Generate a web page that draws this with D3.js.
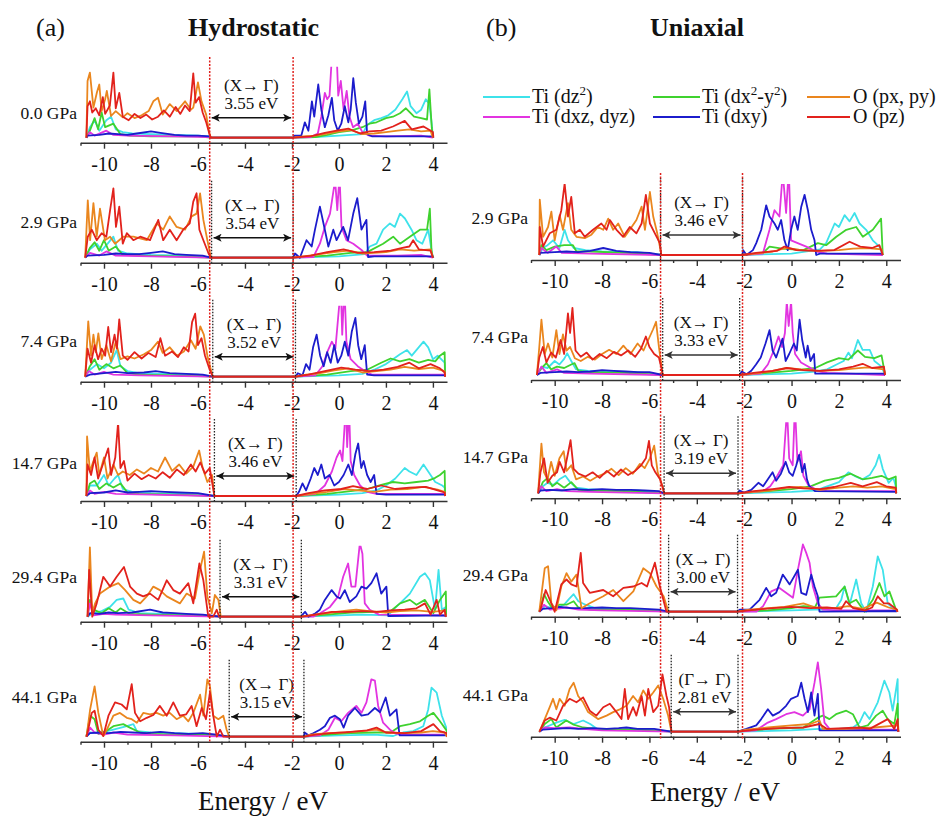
<!DOCTYPE html>
<html>
<head>
<meta charset="utf-8">
<script src="https://cdn.jsdelivr.net/npm/d3@7"></script>
<style>
  body { margin: 0; background: #fff; }
  text { font-family: "Liberation Serif", "Times New Roman", serif; fill: #111; }
</style>
</head>
<body>
<div id="chart"></div>
<script>
// ---- tick labels ----
const majorTicks = [-10, -8, -6, -4, -2, 0, 2, 4];
const minorTicks = [-11, -9, -7, -5, -3, -1, 1, 3];

// ---- legend ----
const seriesNames = ["Ti (dz2)", "Ti (dx2-y2)", "Ti (dxz, dyz)", "Ti (dxy)", "O (px, py)", "O (pz)"];
const seriesColors = ["#3ee2ea", "#3fd22e", "#e234e0", "#1c1ccc", "#ea861e", "#e2221c"];

// ---- panel info, (a) hydrostatic ----
const hydroLabels = ["0.0 GPa", "2.9 GPa", "7.4 GPa", "14.7 GPa", "29.4 GPa", "44.1 GPa"];
const hydroGaps = ["3.55 eV", "3.54 eV", "3.52 eV", "3.46 eV", "3.31 eV", "3.15 eV"];
const hydroTrans = ["(X\u2192 \u0393)", "(X\u2192 \u0393)", "(X\u2192 \u0393)", "(X\u2192 \u0393)", "(X\u2192 \u0393)", "(X\u2192 \u0393)"];
const hydroVBM = [-5.5, -5.42, -5.37, -5.3, -5.06, -4.67];
const hydroCBM = [-1.95, -1.95, -1.85, -1.82, -1.6, -1.49];

// ---- panel info, (b) uniaxial ----
const uniLabels = ["2.9 GPa", "7.4 GPa", "14.7 GPa", "29.4 GPa", "44.1 GPa"];
const uniGaps = ["3.46 eV", "3.33 eV", "3.19 eV", "3.00 eV", "2.81 eV"];
const uniTrans = ["(X\u2192 \u0393)", "(X\u2192 \u0393)", "(X\u2192 \u0393)", "(X\u2192 \u0393)", "(\u0393\u2192 \u0393)"];
const uniVBM = [-5.53, -5.44, -5.38, -5.19, -5.08];
const uniCBM = [-2.07, -2.19, -2.26, -2.28, -2.26];

// ---- DOS curves [energy eV, DOS] ----
// hydrostatic 0.0 GPa
const h0_dz2 = [[-10.75,0],[-10.6,1.5],[-10.4,2.5],[-10.2,1.0],[-9.9,2.5],[-9.7,3.0],[-9.5,1.2],[-9.2,0.8],[-8.8,0.6],[-8,0.5],[-7,0.4],[-6,0.3],[-5.5,0.2],[-5.45,0],[-1.95,0],[-1,0.1],[0,0.3],[1,0.5],[1.2,1.8],[1.5,2.5],[1.8,2.8],[2.1,3.2],[2.4,4.0],[2.7,5.5],[2.9,6.6],[3.05,4.5],[3.3,3.5],[3.5,4.0],[3.7,5.5],[3.85,4.8],[3.95,2.0],[4.0,0]];
const h0_dx2y2 = [[-10.75,0],[-10.6,1.0],[-10.4,2.8],[-10.25,1.2],[-10.1,3.6],[-9.95,1.5],[-9.6,2.0],[-9.3,0.5],[-8.9,0.3],[-8,0.2],[-6,0.2],[-5.45,0],[-1.95,0],[-1,0.1],[-0.5,0.4],[0,0.8],[0.5,1.0],[1,1.5],[1.3,2.0],[1.6,2.2],[2,2.8],[2.3,3.0],[2.6,3.5],[2.85,4.2],[3.2,3.0],[3.5,2.8],[3.75,2.6],[3.85,6.9],[3.95,1.5],[4.0,0]];
const h0_dxz = [[-10.75,0],[-10.6,0.8],[-10.4,0.3],[-9.9,1.0],[-9.6,0.4],[-9,0.3],[-7,0.2],[-5.5,0.1],[-5.45,0],[-1.95,0],[-1.2,0.1],[-0.9,0.6],[-0.75,3.0],[-0.6,6.4],[-0.5,5.5],[-0.4,6.0],[-0.32,10.5],[-0.08,10.5],[-0.03,6.0],[0.08,8.1],[0.2,4.0],[0.33,6.7],[0.45,3.0],[0.6,1.5],[0.8,2.0],[1.0,0.8],[1.3,0.3],[2,0.2],[3.5,0.3],[4.0,0]];
const h0_dxy = [[-10.75,0],[-10.7,0.3],[-10.2,0.4],[-9.8,0.6],[-9.4,0.5],[-9,0.4],[-8.6,0.6],[-8,0.9],[-7.6,0.7],[-7,0.4],[-6.5,0.3],[-6,0.3],[-5.5,0.2],[-5.45,0],[-1.95,0],[-1.9,0.3],[-1.6,0.3],[-1.45,2.2],[-1.3,1.0],[-1.15,5.2],[-1.05,3.0],[-0.88,7.6],[-0.75,4.0],[-0.6,1.5],[-0.45,3.2],[-0.3,5.7],[-0.2,2.5],[-0.05,1.0],[0.1,2.0],[0.25,4.5],[0.4,2.2],[0.5,4.0],[0.61,8.5],[0.72,5.0],[0.85,2.0],[1.0,3.0],[1.12,5.2],[1.2,0.5],[1.4,0.2],[4.0,0.2],[4.02,0]];
const h0_pxy = [[-10.75,0],[-10.7,8.1],[-10.6,9.3],[-10.45,4.3],[-10.3,6.5],[-10.2,7.6],[-10.1,3.8],[-9.95,5.5],[-9.88,6.7],[-9.7,3.1],[-9.5,3.8],[-9.2,2.9],[-9,3.5],[-8.7,2.8],[-8.4,3.2],[-8.1,3.8],[-7.9,5.2],[-7.7,5.7],[-7.5,3.3],[-7.2,4.8],[-6.9,3.8],[-6.55,5.2],[-6.3,4.0],[-6.2,4.3],[-6,7.9],[-5.85,5.2],[-5.65,3.3],[-5.52,0.7],[-5.45,0],[-1.95,0],[-1.5,0.2],[-1,0.3],[-0.5,0.6],[0,0.9],[0.5,1.1],[1,0.5],[1.5,0.6],[2,0.8],[2.5,1.0],[3,1.2],[3.5,0.9],[3.9,1.0],[4.0,0]];
const h0_pz = [[-10.75,0],[-10.7,4.5],[-10.6,5.2],[-10.5,3.6],[-10.35,4.2],[-10.2,3.2],[-10.05,5.8],[-9.95,3.4],[-9.75,4.6],[-9.6,9.3],[-9.5,4.2],[-9.35,6.4],[-9.2,3.0],[-8.95,2.5],[-8.7,3.4],[-8.45,2.8],[-8.2,3.3],[-7.95,2.6],[-7.7,3.0],[-7.45,3.9],[-7.2,3.0],[-6.95,4.4],[-6.75,3.4],[-6.55,4.6],[-6.35,3.8],[-6.2,9.2],[-6.1,5.0],[-5.95,5.8],[-5.8,3.6],[-5.65,2.2],[-5.5,0.4],[-5.45,0],[-1.95,0],[-1.2,0.2],[-0.6,0.7],[-0.1,1.0],[0.4,1.3],[0.9,0.6],[1.3,0.9],[1.8,1.0],[2.3,1.6],[2.8,2.4],[3.1,1.2],[3.6,1.6],[4.0,0.8],[4.02,0]];

// hydrostatic 2.9 GPa
const h1_dz2 = [[-10.8,0],[-10.6,1.2],[-10.3,2.0],[-10.1,1.0],[-9.8,2.2],[-9.6,3.0],[-9.4,1.0],[-9.0,0.6],[-8,0.4],[-6.5,0.3],[-5.45,0],[-1.95,0],[0,0.2],[1.1,0.5],[1.31,1.6],[1.6,2.0],[1.88,4.0],[2.17,4.9],[2.38,4.4],[2.6,6.3],[2.81,5.6],[3.09,4.0],[3.3,2.5],[3.55,2.0],[3.8,4.0],[3.94,1.1],[4.0,0]];
const h1_dx2y2 = [[-10.8,0],[-10.6,1.4],[-10.4,2.2],[-10.2,1.0],[-10.0,2.5],[-9.8,1.0],[-9.5,1.6],[-9.2,0.4],[-8.5,0.3],[-7,0.2],[-5.45,0],[-1.95,0],[-0.5,0.3],[0.5,0.7],[1.2,0.8],[1.88,2.0],[2.31,3.0],[2.6,2.0],[3.02,3.0],[3.45,4.0],[3.75,4.0],[3.87,7.0],[3.94,1.0],[4.0,0]];
const h1_dxz = [[-10.8,0],[-10.6,0.7],[-10.2,0.3],[-9.9,0.9],[-9.5,0.3],[-8,0.2],[-5.45,0],[-1.95,0],[-1.09,0.1],[-0.81,2.0],[-0.6,4.4],[-0.38,6.3],[-0.19,10.5],[-0.15,10.5],[-0.07,6.8],[0,10.5],[0.04,10.5],[0.11,4.4],[0.32,2.5],[0.61,2.0],[0.96,1.1],[1.2,0.3],[2.5,0.3],[3.5,0.4],[4.0,0]];
const h1_dxy = [[-10.8,0],[-10.7,0.3],[-10.0,0.4],[-9.5,0.6],[-9,0.5],[-8.5,0.5],[-8,0.7],[-7.5,0.9],[-7,0.5],[-6.5,0.4],[-5.8,0.3],[-5.45,0],[-1.95,0],[-1.87,0.6],[-1.66,0],[-1.38,2.5],[-1.16,1.6],[-1.02,4.0],[-0.81,7.3],[-0.6,4.0],[-0.45,1.6],[-0.24,4.0],[-0.1,2.5],[0.18,4.4],[0.39,2.5],[0.61,6.3],[0.78,8.5],[0.96,4.0],[1.17,5.4],[1.24,0.1],[1.5,0.2],[4.0,0.2],[4.02,0]];
const h1_pxy = [[-10.8,0],[-10.69,8.2],[-10.59,2.5],[-10.45,7.8],[-10.31,3.0],[-10.17,7.0],[-9.96,2.5],[-9.74,3.0],[-9.53,2.0],[-9.18,3.0],[-8.75,3.0],[-8.18,2.5],[-7.76,4.9],[-7.48,4.0],[-7.2,5.9],[-6.91,4.4],[-6.55,4.0],[-6.27,5.9],[-6.06,6.3],[-5.91,9.2],[-5.77,5.4],[-5.6,2.5],[-5.45,0],[-1.95,0],[-1.5,0.2],[-0.8,0.5],[-0.2,0.8],[0.4,1.0],[1,0.6],[2,0.8],[2.6,1.2],[3.2,1.0],[3.9,1.2],[4.0,0]];
const h1_pz = [[-10.8,0],[-10.69,3.0],[-10.52,4.0],[-10.31,2.5],[-10.1,3.5],[-9.9,3.0],[-9.74,6.8],[-9.6,9.9],[-9.49,4.4],[-9.35,7.3],[-9.2,2.0],[-9.03,3.5],[-8.75,2.5],[-8.46,3.0],[-8.04,2.5],[-7.69,5.4],[-7.48,2.5],[-7.2,4.0],[-6.91,2.5],[-6.63,4.0],[-6.35,4.9],[-6.2,8.0],[-6.06,9.2],[-5.94,4.0],[-5.77,2.5],[-5.55,0.6],[-5.45,0],[-1.95,0],[-1.2,0.3],[-0.5,0.8],[0.2,1.2],[0.8,0.7],[1.5,0.8],[2.2,1.0],[2.7,1.4],[3.0,1.6],[3.16,2.5],[3.4,1.2],[3.9,1.0],[4.0,0]];

// hydrostatic 7.4 GPa
const h2_dz2 = [[-10.8,0],[-10.6,1.0],[-10.3,1.8],[-10.0,1.2],[-9.7,2.0],[-9.46,3.8],[-9.3,1.5],[-9.0,0.8],[-8.5,0.5],[-7.5,0.4],[-6,0.3],[-5.37,0],[-1.85,0],[0,0.2],[1,0.4],[1.5,1.0],[2.0,1.8],[2.3,2.5],[2.6,3.2],[2.9,3.8],[3.1,3.0],[3.35,4.0],[3.6,5.0],[3.8,4.2],[4.0,2.5],[4.2,3.0],[4.5,2.0],[4.52,0]];
const h2_dx2y2 = [[-10.8,0],[-10.6,1.5],[-10.4,2.5],[-10.2,1.0],[-9.9,1.8],[-9.6,1.2],[-9.3,1.6],[-9.0,0.5],[-8.5,0.3],[-7,0.2],[-5.37,0],[-1.85,0],[-0.5,0.3],[0.5,0.8],[1.2,1.0],[1.8,2.0],[2.2,2.6],[2.6,2.2],[3.0,2.5],[3.4,2.0],[3.8,2.4],[4.1,2.2],[4.3,3.0],[4.5,3.5],[4.52,0]];
const h2_dxz = [[-10.8,0],[-10.65,0.8],[-10.4,0.3],[-10.0,0.7],[-9.6,0.3],[-8.5,0.2],[-5.37,0],[-1.85,0],[-1.0,0.2],[-0.7,1.5],[-0.5,3.5],[-0.3,5.0],[-0.15,4.0],[0.02,10.5],[0.1,10.5],[0.14,6.0],[0.2,10.5],[0.26,10.5],[0.32,5.0],[0.5,2.5],[0.8,1.5],[1.1,0.8],[1.4,0.3],[3,0.3],[4.5,0.3],[4.52,0]];
const h2_dxy = [[-10.8,0],[-10.6,0.3],[-10.0,0.5],[-9.5,0.7],[-9,0.5],[-8.3,0.6],[-7.8,0.8],[-7.2,0.5],[-6.5,0.4],[-5.8,0.3],[-5.37,0],[-1.85,0],[-1.75,0.5],[-1.55,0.2],[-1.4,1.8],[-1.25,1.0],[-1.1,4.2],[-0.95,6.0],[-0.8,3.0],[-0.65,1.5],[-0.5,3.5],[-0.35,2.0],[-0.2,4.5],[-0.05,2.0],[0.1,3.0],[0.25,5.0],[0.4,3.0],[0.55,6.5],[0.7,8.4],[0.82,4.5],[0.95,2.5],[1.1,4.5],[1.2,0.3],[1.5,0.2],[4.5,0.2],[4.52,0]];
const h2_pxy = [[-10.8,0],[-10.67,7.9],[-10.55,3.0],[-10.45,6.0],[-10.35,3.5],[-10.24,6.2],[-10.1,2.5],[-9.9,4.5],[-9.7,2.2],[-9.5,5.0],[-9.3,2.5],[-9.0,2.9],[-8.7,2.6],[-8.3,3.2],[-8.0,3.8],[-7.7,5.0],[-7.5,3.4],[-7.2,4.2],[-6.9,3.0],[-6.6,3.6],[-6.3,5.2],[-6.1,4.0],[-5.9,7.2],[-5.75,6.0],[-5.6,3.0],[-5.45,1.0],[-5.37,0],[-1.85,0],[-1.4,0.3],[-0.8,0.5],[-0.2,0.9],[0.4,1.2],[1,0.6],[1.6,0.8],[2.2,1.0],[2.8,1.4],[3.4,1.1],[4.0,1.3],[4.5,0.8],[4.52,0]];
const h2_pz = [[-10.8,0],[-10.7,4.0],[-10.55,2.0],[-10.4,4.5],[-10.25,2.5],[-10.1,4.0],[-9.95,3.0],[-9.82,7.1],[-9.7,3.5],[-9.55,6.0],[-9.45,4.0],[-9.35,8.2],[-9.2,3.0],[-9.0,2.4],[-8.7,3.5],[-8.4,2.6],[-8.1,3.4],[-7.8,2.8],[-7.6,5.5],[-7.4,3.0],[-7.1,3.6],[-6.85,2.8],[-6.6,4.2],[-6.4,3.6],[-6.25,7.8],[-6.12,9.0],[-6.0,4.5],[-5.85,5.5],[-5.7,3.0],[-5.5,1.0],[-5.37,0],[-1.85,0],[-1.3,0.3],[-0.6,0.8],[0.1,1.3],[0.7,1.0],[1.3,0.8],[1.9,1.0],[2.5,1.4],[3.0,2.0],[3.4,1.2],[3.9,1.8],[4.3,1.2],[4.5,0.6],[4.52,0]];

// hydrostatic 14.7 GPa
const h3_dz2 = [[-10.75,0],[-10.6,1.5],[-10.3,1.5],[-10.0,3.0],[-9.8,1.5],[-9.55,2.5],[-9.4,3.0],[-9.2,1.0],[-8.8,0.6],[-8,0.4],[-6.5,0.3],[-5.3,0],[-1.82,0],[0,0.2],[1,0.4],[1.6,0.8],[2.0,1.5],[2.4,2.5],[2.8,4.0],[3.0,3.5],[3.3,3.0],[3.6,4.5],[3.8,3.5],[4.1,2.0],[4.4,1.5],[4.5,1.2],[4.52,0]];
const h3_dx2y2 = [[-10.75,0],[-10.6,1.8],[-10.4,2.2],[-10.2,1.0],[-9.9,1.8],[-9.6,1.2],[-9.3,1.8],[-9.0,0.5],[-8.5,0.3],[-7,0.2],[-5.3,0],[-1.82,0],[-0.5,0.3],[0.5,0.7],[1.2,1.0],[1.8,1.6],[2.3,2.0],[2.8,1.8],[3.3,2.0],[3.8,2.2],[4.1,2.6],[4.3,3.0],[4.5,3.6],[4.52,0]];
const h3_dxz = [[-10.75,0],[-10.6,0.8],[-10.4,0.3],[-10,0.6],[-9.5,0.3],[-8,0.2],[-5.3,0],[-1.82,0],[-1.0,0.3],[-0.6,1.5],[-0.3,3.5],[-0.1,5.5],[0.05,6.5],[0.15,5.0],[0.25,10.5],[0.32,10.5],[0.35,7.0],[0.4,10.5],[0.45,10.5],[0.5,5.0],[0.65,3.0],[0.9,1.5],[1.2,0.6],[1.6,0.3],[4.5,0.3],[4.52,0]];
const h3_dxy = [[-10.75,0],[-10.6,0.4],[-10.0,0.5],[-9.5,0.8],[-9,0.5],[-8.5,0.6],[-8,0.7],[-7.4,0.6],[-6.8,0.5],[-6,0.4],[-5.3,0],[-1.82,0],[-1.7,0.6],[-1.55,1.8],[-1.4,0.8],[-1.2,2.5],[-1.05,4.0],[-0.9,3.0],[-0.75,4.5],[-0.6,2.5],[-0.4,3.0],[-0.2,1.5],[0.0,2.0],[0.2,3.0],[0.4,4.5],[0.55,3.0],[0.7,6.0],[0.82,7.5],[0.95,4.0],[1.05,5.0],[1.2,3.0],[1.35,2.0],[1.5,3.0],[1.6,0.3],[2,0.2],[4.5,0.2],[4.52,0]];
const h3_pxy = [[-10.75,0],[-10.72,8.5],[-10.6,3.5],[-10.45,5.0],[-10.31,6.2],[-10.2,3.0],[-10.0,5.5],[-9.85,2.5],[-9.6,4.5],[-9.4,3.0],[-9.2,3.5],[-8.9,3.0],[-8.6,3.8],[-8.3,3.2],[-8.0,4.0],[-7.7,3.5],[-7.4,5.5],[-7.1,3.6],[-6.8,4.5],[-6.5,3.2],[-6.2,4.2],[-5.95,6.5],[-5.8,4.0],[-5.6,2.0],[-5.4,3.0],[-5.3,0],[-1.82,0],[-1.2,0.3],[-0.5,0.6],[0.2,1.0],[0.8,0.8],[1.5,0.6],[2.2,0.9],[2.9,1.0],[3.6,1.3],[4.2,0.9],[4.5,0.6],[4.52,0]];
const h3_pz = [[-10.75,0],[-10.7,4.5],[-10.55,3.0],[-10.4,5.5],[-10.25,2.5],[-10.05,4.5],[-9.82,6.8],[-9.7,3.0],[-9.52,5.5],[-9.4,10.5],[-9.3,4.0],[-9.15,5.0],[-9.0,2.2],[-8.7,3.2],[-8.4,2.4],[-8.1,3.0],[-7.8,2.5],[-7.5,3.4],[-7.2,2.6],[-6.9,3.8],[-6.6,3.0],[-6.3,4.5],[-6.1,3.5],[-5.9,4.8],[-5.7,3.2],[-5.5,4.0],[-5.35,1.0],[-5.3,0],[-1.82,0],[-1.3,0.4],[-0.6,0.8],[0.1,1.0],[0.6,1.4],[1.2,1.0],[1.8,1.5],[2.4,1.0],[3.0,1.2],[3.7,1.3],[4.2,0.8],[4.5,0.5],[4.52,0]];

// hydrostatic 29.4 GPa
const h4_dz2 = [[-10.7,0],[-10.5,0.5],[-10.1,0.8],[-9.74,1.4],[-9.46,2.4],[-9.18,2.6],[-8.95,1.0],[-8.5,0.5],[-7.5,0.4],[-6.5,0.3],[-5.03,0],[-1.6,0],[0,0.2],[1,0.3],[2.1,0.2],[2.31,1.0],[2.6,1.9],[3.02,3.3],[3.45,5.7],[3.66,6.2],[3.87,5.2],[4.09,1.0],[4.24,6.7],[4.38,1.0],[4.55,1.4],[4.57,0]];
const h4_dx2y2 = [[-10.7,0],[-10.6,2.4],[-10.45,1.0],[-10.1,0.5],[-9.8,1.2],[-9.5,0.6],[-9.3,1.2],[-8.9,0.4],[-8,0.3],[-6.5,0.2],[-5.03,0],[-1.6,0],[-0.5,0.3],[0.5,0.6],[1.5,0.7],[2.17,0.7],[2.6,1.9],[3.02,2.4],[3.3,1.7],[3.66,2.4],[4.02,0.5],[4.3,2.4],[4.55,3.6],[4.57,0]];
const h4_dxz = [[-10.7,0],[-10.6,1.9],[-10.45,0.2],[-10,0.4],[-9.5,0.3],[-8,0.2],[-5.03,0],[-1.6,0],[-1.09,0],[-0.8,0.5],[-0.38,1.4],[-0.03,2.9],[0.18,5.7],[0.39,7.6],[0.53,4.3],[0.7,4.3],[0.89,10.5],[1.0,9.0],[1.1,1.9],[1.31,1.0],[1.7,0.3],[4.55,0.2],[4.57,0]];
const h4_dxy = [[-10.7,0],[-10.6,0.5],[-10.2,0.4],[-9.8,0.6],[-9.4,0.5],[-8.8,0.6],[-8.04,1.0],[-7.5,0.6],[-7,0.5],[-6.5,0.4],[-5.8,0.3],[-5.03,0],[-1.6,0],[-1.58,0.2],[-1.44,0.7],[-1.3,0],[-1.0,0.5],[-0.81,1.0],[-0.6,2.4],[-0.31,3.8],[-0.1,2.9],[0.05,2.6],[0.25,3.8],[0.46,2.1],[0.74,2.9],[0.96,4.3],[1.17,4.0],[1.38,4.8],[1.6,6.2],[1.8,3.3],[2.02,4.3],[2.1,0.1],[4.5,0.2],[4.55,0]];
const h4_pxy = [[-10.7,0],[-10.6,9.9],[-10.5,0.5],[-10.38,1.9],[-10.17,3.3],[-9.74,4.3],[-9.39,4.8],[-9.1,3.8],[-8.75,2.4],[-8.46,1.9],[-8.18,2.9],[-7.9,4.3],[-7.62,3.8],[-7.33,2.9],[-7.05,2.4],[-6.77,1.9],[-6.48,3.3],[-6.13,2.6],[-5.91,6.7],[-5.74,9.3],[-5.6,2.9],[-5.41,0.5],[-5.28,3.1],[-5.13,2.4],[-5.03,0],[-1.6,0],[-1.0,0.3],[-0.3,0.6],[0.4,0.9],[0.74,1.0],[1.3,0.8],[2.0,0.6],[2.6,0.8],[3.3,0.9],[4.0,0.7],[4.5,0.9],[4.55,0]];
const h4_pz = [[-10.7,0],[-10.63,6.7],[-10.5,0],[-10.31,1.9],[-10.03,5.7],[-9.74,4.3],[-9.46,5.7],[-9.15,7.1],[-8.89,4.3],[-8.6,3.3],[-8.33,2.9],[-8.04,3.3],[-7.69,2.4],[-7.33,5.2],[-7.05,3.8],[-6.77,3.3],[-6.41,4.8],[-6.2,1.9],[-5.94,7.6],[-5.77,5.2],[-5.56,0],[-5.35,0],[-5.2,1.0],[-5.1,0],[-1.6,0],[-1.0,0.3],[-0.3,0.7],[0.4,0.7],[1.0,0.8],[1.6,0.7],[2.2,0.9],[2.8,1.0],[3.3,1.2],[3.66,1.9],[3.9,0.3],[4.16,2.4],[4.3,0.3],[4.5,1.0],[4.55,0]];

// hydrostatic 44.1 GPa
const h5_dz2 = [[-10.75,0],[-10.6,0.6],[-10.2,0.5],[-9.6,1.0],[-9.03,1.5],[-8.75,1.8],[-8.6,0.8],[-8.0,0.6],[-7,0.5],[-6,0.4],[-4.67,0],[-1.49,0],[0,0.2],[1.5,0.3],[2.31,0.1],[2.73,0.6],[3.16,0.8],[3.59,1.5],[3.8,3.9],[3.94,7.0],[4.16,6.3],[4.38,3.0],[4.6,1.0],[4.62,0]];
const h5_dx2y2 = [[-10.75,0],[-10.59,3.0],[-10.4,2.5],[-10.24,0.4],[-9.9,0.8],[-9.6,1.5],[-9.18,1.8],[-8.9,1.3],[-8.46,0.6],[-8,0.4],[-7,0.3],[-5.5,0.3],[-4.67,0],[-1.49,0],[-0.5,0.3],[0.5,0.5],[1.5,0.6],[2.2,0.6],[2.6,1.5],[3.02,1.8],[3.45,2.2],[3.8,3.0],[4.02,3.4],[4.3,2.2],[4.6,0.8],[4.62,0]];
const h5_dxz = [[-10.75,0],[-10.59,1.3],[-10.4,0.6],[-10,0.3],[-9.6,0.6],[-9,0.3],[-7,0.2],[-4.67,0],[-1.49,0],[-0.8,0.2],[-0.45,1.0],[-0.17,2.7],[0.1,2.2],[0.39,3.4],[0.74,4.4],[0.96,3.4],[1.17,4.9],[1.38,8.2],[1.53,8.0],[1.67,4.4],[1.88,2.0],[2.17,1.0],[2.45,0.4],[3,0.3],[4.6,0.3],[4.62,0]];
const h5_dxy = [[-10.75,0],[-10.6,0.5],[-10.2,0.6],[-9.8,0.5],[-9.3,0.7],[-8.8,0.6],[-8.2,0.5],[-7.6,0.7],[-7,0.5],[-6.4,0.4],[-5.8,0.5],[-5.2,0.3],[-4.67,0],[-1.49,0],[-1.46,0.6],[-1.3,0.2],[-1.1,0.5],[-0.81,1.0],[-0.6,1.5],[-0.38,2.7],[-0.17,3.0],[0.04,2.5],[0.2,1.3],[0.39,3.0],[0.68,4.1],[0.96,3.0],[1.24,3.2],[1.53,4.1],[1.75,3.5],[1.99,5.6],[2.17,3.0],[2.45,3.9],[2.58,0.2],[3.5,0.2],[4.6,0.2],[4.62,0]];
const h5_pxy = [[-10.75,0],[-10.72,0.6],[-10.59,3.9],[-10.4,7.2],[-10.24,3.4],[-10.03,0.1],[-9.88,1.0],[-9.6,3.0],[-9.32,3.4],[-9.03,2.7],[-8.82,2.5],[-8.6,2.0],[-8.33,3.4],[-8.04,3.2],[-7.76,3.4],[-7.48,3.0],[-7.2,3.4],[-6.91,2.5],[-6.63,3.0],[-6.41,2.2],[-6.2,3.4],[-5.91,6.0],[-5.77,3.0],[-5.6,8.2],[-5.49,7.2],[-5.35,3.0],[-5.13,2.5],[-4.92,3.0],[-4.78,1.0],[-4.67,0],[-1.49,0],[-1.2,0.3],[-0.5,0.5],[0.3,0.6],[1.0,0.8],[1.6,1.0],[2.0,0.6],[2.8,0.5],[3.5,0.6],[4.0,0.8],[4.5,0.6],[4.6,0]];
const h5_pz = [[-10.75,0],[-10.72,0.3],[-10.52,3.4],[-10.4,3.7],[-10.24,1.0],[-10.03,0.1],[-9.81,3.0],[-9.53,4.9],[-9.25,4.6],[-9.03,3.9],[-8.82,7.5],[-8.68,3.4],[-8.46,2.2],[-8.18,2.7],[-7.9,3.1],[-7.62,4.4],[-7.33,3.0],[-7.05,4.9],[-6.77,3.0],[-6.5,3.2],[-6.27,4.4],[-6.06,1.5],[-5.84,4.1],[-5.66,2.5],[-5.49,6.3],[-5.35,3.0],[-5.2,0],[-5.06,1.0],[-4.92,0],[-4.67,0],[-1.49,0],[-1.0,0.3],[-0.3,0.5],[0.5,0.7],[1.2,0.9],[1.6,1.3],[2.0,0.6],[2.8,0.5],[3.5,0.8],[4.02,1.8],[4.3,0.8],[4.6,0.5],[4.62,0]];

// uniaxial 2.9 GPa
const u0_dz2 = [[-10.65,0],[-10.5,1.0],[-10.3,1.4],[-10.07,2.1],[-9.8,1.0],[-9.58,3.6],[-9.44,2.1],[-9.2,1.0],[-8.7,0.7],[-8,0.5],[-6.5,0.4],[-5.5,0],[-2.07,0],[0,0.2],[1.0,0.7],[1.2,0.8],[1.46,1.7],[1.82,4.5],[2.0,4.0],[2.24,5.7],[2.45,4.8],[2.66,6.0],[2.87,4.5],[3.15,3.6],[3.43,2.1],[3.71,1.2],[3.85,0]];
const u0_dx2y2 = [[-10.65,0],[-10.56,1.4],[-10.35,0.7],[-10.0,1.2],[-9.6,1.4],[-9.23,1.4],[-9.08,0.5],[-8.5,0.5],[-7,0.3],[-5.5,0],[-2.07,0],[-1.2,0.3],[-0.93,1.2],[-0.4,0.9],[0.5,0.7],[1.11,1.7],[1.46,1.4],[1.89,2.6],[2.31,3.6],[2.73,4.0],[3.01,2.6],[3.43,3.6],[3.78,5.2],[3.85,0]];
const u0_dxz = [[-10.65,0],[-10.56,1.0],[-10.3,0.3],[-9.93,1.2],[-9.7,0.3],[-8.5,0.2],[-5.5,0],[-2.07,0],[-1.21,0.2],[-0.93,3.6],[-0.72,6.4],[-0.51,5.5],[-0.4,10.5],[-0.34,10.5],[-0.23,6.0],[-0.15,10.5],[-0.1,10.5],[-0.02,2.1],[0.26,1.7],[0.62,1.2],[1.04,0.5],[1.5,0.2],[3.85,0]];
const u0_dxy = [[-10.65,0],[-10.6,0.3],[-10.0,0.4],[-9.5,0.5],[-9,0.4],[-8.5,0.6],[-7.95,1.0],[-7.4,0.6],[-6.8,0.4],[-6,0.3],[-5.5,0],[-2.07,0],[-2.05,0.7],[-1.9,0],[-1.63,0.7],[-1.49,1.7],[-1.28,3.6],[-1.07,7.1],[-0.93,5.5],[-0.72,4.5],[-0.58,3.6],[-0.44,5.0],[-0.3,2.1],[-0.16,0.7],[-0.02,3.6],[0.12,5.5],[0.26,3.6],[0.41,6.9],[0.55,8.6],[0.69,6.4],[0.83,3.6],[0.97,2.1],[1.04,0],[1.2,0.2],[3.8,0.2],[3.85,0]];
const u0_pxy = [[-10.65,0],[-10.63,7.9],[-10.49,2.6],[-10.28,4.0],[-10.14,6.2],[-10.0,2.1],[-9.79,5.7],[-9.65,3.6],[-9.44,7.4],[-9.3,3.6],[-9.08,2.6],[-8.73,2.4],[-8.45,2.9],[-8.17,4.0],[-7.95,3.6],[-7.74,5.2],[-7.53,3.6],[-7.32,4.5],[-7.04,2.6],[-6.83,3.6],[-6.55,5.0],[-6.33,6.9],[-6.19,3.6],[-5.98,9.0],[-5.84,5.5],[-5.67,3.1],[-5.53,0.7],[-5.5,0],[-2.07,0],[-1.5,0.2],[-0.8,0.5],[-0.2,1.0],[0.4,0.7],[1.2,0.6],[2.0,0.7],[2.6,0.9],[3.2,1.0],[3.8,0.8],[3.85,0]];
const u0_pz = [[-10.65,0],[-10.63,4.0],[-10.49,1.2],[-10.21,3.1],[-9.93,3.6],[-9.72,6.4],[-9.58,10.2],[-9.44,5.5],[-9.3,8.3],[-9.15,3.1],[-8.94,3.6],[-8.73,2.6],[-8.38,3.6],[-8.03,4.5],[-7.81,3.6],[-7.67,5.0],[-7.39,3.6],[-7.11,2.6],[-6.83,4.0],[-6.55,3.1],[-6.33,4.5],[-6.15,8.6],[-5.98,4.5],[-5.77,3.1],[-5.56,1.7],[-5.5,0],[-2.07,0],[-1.5,0.3],[-0.6,0.6],[-0.3,1.2],[0.2,0.7],[1.0,0.6],[1.8,0.7],[2.45,1.9],[2.9,1.2],[3.4,1.0],[3.71,1.4],[3.85,0]];

// uniaxial 7.4 GPa
const u1_dz2 = [[-10.75,0],[-10.55,1.2],[-10.3,1.0],[-10.0,2.0],[-9.8,1.5],[-9.6,2.3],[-9.47,3.1],[-9.3,2.0],[-9.1,0.8],[-8.6,0.6],[-8,0.5],[-6.5,0.4],[-5.44,0],[-2.19,0],[0,0.2],[1.0,0.5],[1.5,0.8],[1.9,1.5],[2.2,2.0],[2.4,3.2],[2.55,2.4],[2.8,5.0],[3.0,3.6],[3.3,3.6],[3.5,2.0],[3.8,1.2],[3.95,0]];
const u1_dx2y2 = [[-10.75,0],[-10.55,1.0],[-10.35,1.7],[-10.15,0.8],[-9.9,1.2],[-9.6,1.0],[-9.3,1.5],[-9.16,1.7],[-9.0,0.6],[-8.5,0.4],[-7,0.3],[-5.44,0],[-2.19,0],[-1.0,0.3],[0,0.6],[1.0,1.0],[1.5,1.8],[2.0,2.4],[2.4,2.2],[2.8,3.5],[3.1,2.6],[3.5,2.4],[3.8,2.8],[3.95,0]];
const u1_dxz = [[-10.75,0],[-10.56,1.2],[-10.35,0.3],[-9.9,0.8],[-9.6,0.3],[-8.5,0.2],[-5.44,0],[-2.19,0],[-1.3,0.2],[-1.0,1.5],[-0.75,3.5],[-0.55,5.5],[-0.4,4.0],[-0.28,6.0],[-0.2,10.5],[-0.12,7.0],[-0.02,10.5],[0.05,6.0],[0.15,3.0],[0.4,1.8],[0.7,1.2],[1.0,0.6],[1.5,0.3],[3.95,0]];
const u1_dxy = [[-10.75,0],[-10.6,0.3],[-10,0.4],[-9.5,0.5],[-9,0.4],[-8.5,0.5],[-8,0.7],[-7.5,0.6],[-7,0.5],[-6.5,0.4],[-6,0.4],[-5.44,0],[-2.19,0],[-2.1,0.5],[-1.9,0.1],[-1.7,0.6],[-1.5,1.5],[-1.3,2.5],[-1.1,4.5],[-0.93,6.4],[-0.8,3.5],[-0.65,2.5],[-0.5,4.0],[-0.38,5.2],[-0.25,2.0],[-0.1,3.0],[0.1,4.5],[0.22,3.5],[0.34,7.9],[0.45,5.0],[0.6,2.5],[0.68,4.2],[0.8,2.0],[0.95,3.0],[1.0,0.2],[3.9,0.2],[3.95,0]];
const u1_pxy = [[-10.75,0],[-10.65,4.0],[-10.56,7.9],[-10.42,3.0],[-10.28,4.5],[-10.1,2.5],[-9.93,6.4],[-9.8,3.0],[-9.65,5.8],[-9.5,3.5],[-9.35,4.0],[-9.15,2.4],[-8.9,2.0],[-8.6,2.6],[-8.3,2.2],[-8.0,3.0],[-7.7,3.6],[-7.4,3.0],[-7.1,4.2],[-6.8,3.0],[-6.5,4.5],[-6.25,3.5],[-6.05,5.0],[-5.85,6.5],[-5.72,7.6],[-5.6,4.0],[-5.48,1.0],[-5.44,0],[-2.19,0],[-1.6,0.2],[-0.9,0.5],[-0.2,1.0],[0.4,0.8],[1.2,0.6],[2.0,0.7],[2.6,0.9],[3.2,1.1],[3.9,0.8],[3.95,0]];
const u1_pz = [[-10.75,0],[-10.65,2.5],[-10.5,4.0],[-10.35,1.8],[-10.15,3.2],[-9.95,2.5],[-9.75,5.0],[-9.6,3.0],[-9.44,8.8],[-9.35,6.0],[-9.25,9.6],[-9.12,3.5],[-8.9,2.6],[-8.65,3.2],[-8.4,2.2],[-8.1,3.0],[-7.8,2.4],[-7.5,3.3],[-7.2,2.8],[-6.9,3.5],[-6.6,2.6],[-6.35,3.8],[-6.15,5.5],[-6.0,4.0],[-5.8,3.0],[-5.6,2.5],[-5.48,0.8],[-5.44,0],[-2.19,0],[-1.6,0.3],[-0.8,0.6],[-0.2,1.0],[0.5,0.7],[1.2,0.6],[2.0,0.8],[2.6,1.2],[3.0,1.6],[3.4,1.0],[3.9,1.2],[3.95,0]];

// uniaxial 14.7 GPa
const u2_dz2 = [[-10.7,0],[-10.5,1.0],[-10.3,1.5],[-10.05,1.2],[-9.8,2.0],[-9.55,2.5],[-9.35,1.6],[-9.1,0.8],[-8.6,0.6],[-8,0.5],[-6.5,0.4],[-5.38,0],[-2.26,0],[0,0.2],[1.0,0.4],[1.5,1.0],[2.0,1.6],[2.4,3.0],[2.7,2.4],[3.0,2.0],[3.3,2.6],[3.55,4.0],[3.7,5.5],[3.85,3.5],[4.1,1.5],[4.3,2.2],[4.4,1.0],[4.42,0]];
const u2_dx2y2 = [[-10.7,0],[-10.5,1.6],[-10.3,2.2],[-10.1,1.0],[-9.9,1.5],[-9.6,0.8],[-9.3,1.6],[-9.0,0.5],[-8.5,0.4],[-7,0.3],[-5.38,0],[-2.26,0],[-1.0,0.3],[0,0.6],[0.8,1.0],[1.4,1.8],[2.0,2.2],[2.5,2.8],[3.0,2.0],[3.4,2.2],[3.8,2.5],[4.1,2.0],[4.4,2.4],[4.42,0]];
const u2_dxz = [[-10.7,0],[-10.56,1.0],[-10.35,0.3],[-9.9,0.6],[-9.5,0.3],[-8.5,0.2],[-5.38,0],[-2.26,0],[-1.2,0.3],[-0.9,1.0],[-0.6,2.5],[-0.35,4.0],[-0.22,10.5],[-0.17,10.5],[-0.1,5.0],[0.05,4.0],[0.12,10.5],[0.17,10.5],[0.25,4.5],[0.4,6.0],[0.5,2.5],[0.7,1.2],[1.0,0.6],[1.5,0.3],[4.4,0.3],[4.42,0]];
const u2_dxy = [[-10.7,0],[-10.6,0.4],[-10.2,0.5],[-9.7,0.4],[-9.2,0.6],[-8.6,0.5],[-8,0.6],[-7.4,0.5],[-6.8,0.5],[-6.2,0.4],[-5.6,0.3],[-5.38,0],[-2.26,0],[-2.2,0.4],[-2.0,0.1],[-1.7,0.5],[-1.4,1.5],[-1.2,1.0],[-1.0,2.0],[-0.8,3.0],[-0.65,1.8],[-0.45,2.8],[-0.25,4.5],[-0.1,3.0],[0.05,2.5],[0.2,4.0],[0.32,5.5],[0.45,3.0],[0.55,4.2],[0.65,2.0],[0.75,1.0],[1.0,0.3],[4.4,0.2],[4.42,0]];
const u2_pxy = [[-10.7,0],[-10.56,7.1],[-10.45,3.0],[-10.3,2.0],[-10.15,4.5],[-10.0,2.5],[-9.8,5.0],[-9.62,6.0],[-9.5,3.2],[-9.3,4.0],[-9.1,2.0],[-8.8,2.4],[-8.5,1.8],[-8.2,2.4],[-7.9,2.8],[-7.6,3.5],[-7.3,2.6],[-7.0,3.6],[-6.7,2.8],[-6.4,4.2],[-6.2,3.6],[-5.98,5.0],[-5.8,6.8],[-5.65,3.0],[-5.45,1.0],[-5.38,0],[-2.26,0],[-1.6,0.2],[-0.9,0.4],[-0.2,0.8],[0.4,0.9],[1.2,0.5],[2.0,0.8],[2.6,1.0],[3.2,0.8],[3.8,1.0],[4.4,0.6],[4.42,0]];
const u2_pz = [[-10.7,0],[-10.6,3.0],[-10.45,5.0],[-10.3,1.5],[-10.1,2.5],[-9.9,3.0],[-9.79,4.5],[-9.6,3.0],[-9.45,5.5],[-9.33,7.6],[-9.2,3.5],[-9.0,2.8],[-8.7,2.4],[-8.4,3.0],[-8.1,2.2],[-7.8,3.2],[-7.5,2.4],[-7.2,3.4],[-6.9,2.6],[-6.6,3.2],[-6.35,4.0],[-6.15,5.0],[-6.02,7.5],[-5.9,4.0],[-5.75,3.0],[-5.55,2.0],[-5.42,0.6],[-5.38,0],[-2.26,0],[-1.6,0.3],[-0.8,0.6],[-0.1,0.9],[0.5,0.7],[1.2,0.6],[1.8,0.9],[2.5,1.5],[3.0,1.0],[3.6,1.6],[4.0,1.0],[4.4,0.8],[4.42,0]];

// uniaxial 29.4 GPa
const u3_dz2 = [[-10.65,0],[-10.4,0.8],[-10.0,0.4],[-9.6,1.0],[-9.4,1.8],[-9.2,2.5],[-9.0,1.5],[-8.7,1.0],[-8.3,0.5],[-7.5,0.4],[-6.5,0.3],[-5.2,0],[-2.28,0],[0,0.2],[1.0,0.3],[1.18,0.3],[1.88,0.5],[2.1,1.7],[2.24,3.6],[2.45,1.0],[2.73,4.6],[2.94,1.2],[3.15,0],[3.43,3.6],[3.64,7.9],[3.85,6.0],[4.06,1.2],[4.41,0]];
const u3_dx2y2 = [[-10.65,0],[-10.45,2.5],[-10.3,1.5],[-10.1,0.5],[-9.8,1.0],[-9.5,1.0],[-9.2,1.5],[-9.0,0.6],[-8.5,0.3],[-7,0.3],[-5.2,0],[-2.28,0],[-1.0,0.2],[0,0.5],[0.5,0.8],[1.0,0.7],[1.18,2.0],[1.88,2.2],[2.24,3.6],[2.45,1.2],[2.73,1.7],[3.08,0],[3.43,1.7],[3.71,4.1],[3.92,2.2],[4.13,2.9],[4.41,0.3],[4.45,0]];
const u3_dxz = [[-10.65,0],[-10.45,1.0],[-10.2,0.3],[-9.5,0.6],[-9.0,0.3],[-8,0.2],[-5.2,0],[-2.28,0],[-1.49,0],[-1.2,0.8],[-0.86,2.9],[-0.51,3.4],[0.06,2.0],[0.27,6.0],[0.48,9.6],[0.62,8.4],[0.76,7.0],[0.9,3.6],[1.11,1.2],[1.32,0.3],[2,0.2],[4.45,0.2],[4.47,0]];
const u3_dxy = [[-10.65,0],[-10.5,0.4],[-10.1,0.5],[-9.8,0.7],[-9.3,0.5],[-8.7,0.5],[-8,0.6],[-7.4,0.5],[-6.8,0.5],[-6.2,0.4],[-5.6,0.3],[-5.2,0],[-2.28,0],[-2.19,0.3],[-1.77,0.3],[-1.35,1.7],[-1.07,3.4],[-0.86,2.2],[-0.65,2.7],[-0.37,5.3],[-0.08,3.9],[0.27,6.0],[0.41,2.7],[0.62,2.4],[0.83,5.3],[0.97,3.6],[1.11,2.2],[1.18,0],[4.45,0.1],[4.47,0]];
const u3_pxy = [[-10.65,0],[-10.42,6.2],[-10.28,6.5],[-10.14,1.2],[-9.93,0.2],[-9.72,3.6],[-9.5,5.5],[-9.3,4.3],[-9.08,5.3],[-8.87,0.5],[-8.52,1.2],[-7.95,2.2],[-7.53,3.1],[-7.1,1.5],[-6.68,2.9],[-6.26,6.2],[-5.98,5.5],[-5.7,3.6],[-5.4,2.2],[-5.2,0],[-2.28,0],[-1.8,0.3],[-1.0,0.5],[-0.3,0.7],[0.5,1.2],[1.0,0.6],[1.8,0.5],[2.4,0.8],[3.0,0.4],[3.6,1.3],[4.1,0.6],[4.45,0.3],[4.47,0]];
const u3_pz = [[-10.65,0],[-10.6,0.3],[-10.38,3.1],[-10.14,1.2],[-10.0,0],[-9.72,3.9],[-9.5,4.6],[-9.3,3.9],[-9.08,3.6],[-8.9,8.4],[-8.8,4.1],[-8.52,2.7],[-7.95,3.1],[-7.53,2.2],[-7.1,3.4],[-6.68,3.6],[-6.33,4.1],[-6.1,3.6],[-5.77,7.0],[-5.56,3.6],[-5.28,0],[-2.28,0],[-1.5,0.3],[-0.8,0.5],[0,0.7],[0.8,0.5],[1.5,0.6],[2.1,0.4],[2.3,1.5],[2.6,0.5],[3.1,0.2],[3.4,0.6],[3.64,2.2],[3.9,1.2],[4.1,1.2],[4.45,0.3],[4.47,0]];

// uniaxial 44.1 GPa
const u4_dz2 = [[-10.65,0],[-10.42,0.6],[-9.93,1.3],[-9.58,1.7],[-9.2,1.1],[-8.8,1.6],[-8.5,1.1],[-8.2,0.4],[-7.5,0.3],[-6,0.3],[-5.07,0],[-2.26,0],[0,0.2],[1.18,0.4],[2.0,0.4],[2.6,0.6],[2.87,1.3],[3.08,2.8],[3.29,1.8],[3.64,4.2],[3.92,7.3],[4.13,5.6],[4.27,3.0],[4.48,7.5],[4.5,0]];
const u4_dx2y2 = [[-10.65,0],[-10.42,1.1],[-10.14,1.8],[-9.93,0.6],[-9.51,1.6],[-9.2,1.0],[-8.8,0.6],[-8,0.3],[-6.5,0.3],[-5.07,0],[-2.26,0],[-1.0,0.4],[0.5,0.6],[1.11,2.0],[1.32,2.3],[1.6,1.8],[1.88,2.5],[2.31,3.0],[2.59,2.5],[2.87,0.6],[3.22,0.9],[3.57,2.3],[3.85,3.0],[4.06,1.8],[4.34,1.1],[4.48,4.0],[4.5,0]];
const u4_dxz = [[-10.65,0],[-10.42,0.6],[-10.0,0.5],[-9.37,0.6],[-8.8,0.4],[-8,0.2],[-5.07,0],[-2.26,0],[-1.5,0.2],[-1.0,1.3],[-0.65,1.8],[-0.23,2.5],[0.12,2.8],[0.48,2.3],[0.76,3.2],[0.97,7.0],[1.11,9.9],[1.25,6.1],[1.39,1.3],[1.6,0.4],[2,0.3],[4.5,0.3],[4.52,0]];
const u4_dxy = [[-10.65,0],[-10.5,0.3],[-10.0,0.4],[-9.5,0.5],[-9.0,0.4],[-8.4,0.5],[-7.8,0.4],[-7.3,0.5],[-6.97,0.6],[-6.5,0.4],[-5.8,0.4],[-5.07,0],[-2.26,0],[-2.2,0.1],[-1.91,0.4],[-1.49,0.9],[-1.28,1.8],[-1.0,3.2],[-0.79,2.3],[-0.51,2.8],[-0.23,3.7],[-0.02,4.7],[0.26,5.1],[0.41,7.0],[0.55,4.7],[0.69,2.8],[0.83,5.6],[0.97,2.3],[1.11,5.4],[1.18,0.2],[4.5,0.2],[4.52,0]];
const u4_pxy = [[-10.65,0],[-10.63,0.1],[-10.42,1.8],[-10.21,3.5],[-10.07,4.7],[-9.93,3.2],[-9.79,4.7],[-9.58,3.7],[-9.37,6.1],[-9.2,7.0],[-9.01,5.1],[-8.8,4.2],[-8.59,2.8],[-8.38,2.3],[-8.17,1.8],[-7.81,2.3],[-7.53,2.8],[-7.25,3.2],[-6.97,3.7],[-6.69,5.1],[-6.48,4.2],[-6.26,5.9],[-6.05,4.7],[-5.84,5.6],[-5.63,6.6],[-5.42,4.7],[-5.21,2.3],[-5.07,0],[-2.26,0],[-1.91,0.3],[-1.0,0.6],[0,0.9],[0.8,1.1],[1.18,1.6],[1.32,0.4],[2.3,0.4],[3.5,0.6],[4.5,0.9],[4.52,0]];
const u4_pz = [[-10.65,0],[-10.63,0.1],[-10.42,1.6],[-10.21,2.0],[-9.93,1.6],[-9.65,3.7],[-9.37,4.7],[-9.08,4.2],[-8.8,4.9],[-8.52,3.0],[-8.24,2.3],[-7.95,3.5],[-7.67,4.0],[-7.39,2.8],[-7.18,1.8],[-7.04,6.1],[-6.9,1.8],[-6.69,3.5],[-6.55,2.3],[-6.33,5.1],[-6.19,2.3],[-6.05,6.1],[-5.84,2.8],[-5.63,3.7],[-5.45,8.2],[-5.28,5.1],[-5.17,3.5],[-5.07,0],[-2.26,0],[-1.5,0.3],[-0.5,0.5],[0.5,0.6],[1.18,1.1],[1.5,0.4],[2.9,0.6],[3.3,0.4],[4.06,1.8],[4.34,0.4],[4.48,1.8],[4.5,0]];

const hydroSeries = [
  [h0_dz2, h0_dx2y2, h0_dxz, h0_dxy, h0_pxy, h0_pz],
  [h1_dz2, h1_dx2y2, h1_dxz, h1_dxy, h1_pxy, h1_pz],
  [h2_dz2, h2_dx2y2, h2_dxz, h2_dxy, h2_pxy, h2_pz],
  [h3_dz2, h3_dx2y2, h3_dxz, h3_dxy, h3_pxy, h3_pz],
  [h4_dz2, h4_dx2y2, h4_dxz, h4_dxy, h4_pxy, h4_pz],
  [h5_dz2, h5_dx2y2, h5_dxz, h5_dxy, h5_pxy, h5_pz]
];
const uniSeries = [
  [u0_dz2, u0_dx2y2, u0_dxz, u0_dxy, u0_pxy, u0_pz],
  [u1_dz2, u1_dx2y2, u1_dxz, u1_dxy, u1_pxy, u1_pz],
  [u2_dz2, u2_dx2y2, u2_dxz, u2_dxy, u2_pxy, u2_pz],
  [u3_dz2, u3_dx2y2, u3_dxz, u3_dxy, u3_pxy, u3_pz],
  [u4_dz2, u4_dx2y2, u4_dxz, u4_dxy, u4_pxy, u4_pz]
];

// ---- drawing ----
const svg = d3.select("#chart").append("svg")
  .attr("width", 944)
  .attr("height", 816);
const defs = svg.append("defs");

function arrowMarker(id, color) {
  defs.append("marker")
    .attr("id", id)
    .attr("viewBox", "0 0 10 10")
    .attr("refX", 10).attr("refY", 5)
    .attr("markerWidth", 10).attr("markerHeight", 8)
    .attr("markerUnits", "userSpaceOnUse")
    .attr("orient", "auto-start-reverse")
    .append("path")
    .attr("d", "M0,0 L10,5 L0,10 L2.5,5 z")
    .attr("fill", color);
}
arrowMarker("arrA", "#111");
arrowMarker("arrB", "#333");

function drawColumn(cfg) {
  const x = d3.scaleLinear().domain([-11, 4.6]).range([cfg.x0, cfg.x1]);
  const col = svg.append("g");

  cfg.series.forEach((panel, i) => {
    const axisY = cfg.axes[i];
    const base = axisY - 5;
    const y = d3.scaleLinear().domain([0, 10]).range([base, base - 70]);
    const g = col.append("g");
    const clipId = "clip-" + cfg.id + i;

    defs.append("clipPath").attr("id", clipId)
      .append("rect")
      .attr("x", x(-11)).attr("y", base - 71)
      .attr("width", x(4.6) - x(-11)).attr("height", 74);

    const line = d3.line().x(d => x(d[0])).y(d => y(d[1]));

    g.append("g").attr("clip-path", "url(#" + clipId + ")")
      .selectAll("path")
      .data(panel)
      .enter()
      .append("path")
      .attr("d", d => line(d))
      .attr("fill", "none")
      .attr("stroke", (d, k) => seriesColors[k])
      .attr("stroke-width", 1.8)
      .attr("stroke-linejoin", "round");

    // axis
    const ax = g.append("g")
      .attr("transform", "translate(0," + axisY + ")")
      .call(d3.axisBottom(x).tickValues(majorTicks).tickSize(6).tickSizeOuter(0).tickFormat(d => String(d)));
    ax.select(".domain").attr("stroke", "#333").attr("stroke-width", 1.6);
    ax.selectAll(".tick line").attr("stroke", "#333").attr("stroke-width", 1.4);
    ax.selectAll(".tick text")
      .attr("y", 14)
      .attr("font-size", 20)
      .attr("fill", "#111");
    ax.attr("font-family", null);

    const mn = g.append("g")
      .attr("transform", "translate(0," + axisY + ")")
      .call(d3.axisBottom(x).tickValues(minorTicks).tickSize(3).tickFormat(""));
    mn.select(".domain").remove();
    mn.selectAll(".tick line").attr("stroke", "#333").attr("stroke-width", 1.4);

    // pressure label
    g.append("text")
      .attr("x", cfg.labelX).attr("y", cfg.labelY[i] + 6)
      .attr("text-anchor", "end")
      .attr("font-size", 17.5)
      .text(cfg.labels[i]);

    // gap edges
    if (cfg.showBlack[i]) {
      [cfg.vbm[i], cfg.cbm[i]].forEach(e => {
        g.append("line")
          .attr("x1", x(e)).attr("x2", x(e))
          .attr("y1", axisY - 82).attr("y2", axisY)
          .attr("stroke", "#222").attr("stroke-width", 1.3)
          .attr("stroke-dasharray", "1.5,1.5");
      });
    }

    // arrow and gap text
    const xa = x(cfg.vbm[i]) + 2, xb = x(cfg.cbm[i]) - 2;
    g.append("line")
      .attr("x1", xa).attr("x2", xb)
      .attr("y1", axisY - 25).attr("y2", axisY - 25)
      .attr("stroke", cfg.arrowColor).attr("stroke-width", 1.4)
      .attr("marker-start", "url(#" + cfg.marker + ")")
      .attr("marker-end", "url(#" + cfg.marker + ")");
    const xc = (xa + xb) / 2;
    g.append("text")
      .attr("x", xc).attr("y", axisY - 52)
      .attr("text-anchor", "middle").attr("font-size", 17)
      .text(cfg.trans[i]);
    g.append("text")
      .attr("x", xc).attr("y", axisY - 34)
      .attr("text-anchor", "middle").attr("font-size", 17)
      .text(cfg.gaps[i]);
  });

  // reference band edges (red dotted)
  [cfg.refV, cfg.refC].forEach(e => {
    col.append("line")
      .attr("x1", x(e)).attr("x2", x(e))
      .attr("y1", cfg.redTop).attr("y2", cfg.redBottom)
      .attr("stroke", "#e0201c").attr("stroke-width", 1.5)
      .attr("stroke-dasharray", "2,1.5");
  });

  col.append("text")
    .attr("x", cfg.energyX).attr("y", cfg.energyY)
    .attr("text-anchor", "middle").attr("font-size", 27)
    .text("Energy / eV");
}

drawColumn({
  id: "a", x0: 80.5, x1: 447,
  axes: [142.7, 262.7, 381.7, 501, 621.7, 741.7],
  labelY: [113, 221.7, 340.7, 462.7, 576.7, 696.7], labelX: 77,
  labels: hydroLabels, gaps: hydroGaps, trans: hydroTrans,
  vbm: hydroVBM, cbm: hydroCBM, series: hydroSeries,
  showBlack: [false, true, true, true, true, true],
  refV: -5.5, refC: -1.95, redTop: 57, redBottom: 742,
  arrowColor: "#111", marker: "arrA",
  energyX: 263, energyY: 810
});

drawColumn({
  id: "b", x0: 531, x1: 900.5,
  axes: [260, 380, 498.3, 616.7, 736.7],
  labelY: [218, 336.7, 456.7, 575, 695], labelX: 528,
  labels: uniLabels, gaps: uniGaps, trans: uniTrans,
  vbm: uniVBM, cbm: uniCBM, series: uniSeries,
  showBlack: [true, true, true, true, true],
  refV: -5.53, refC: -2.07, redTop: 173, redBottom: 740,
  arrowColor: "#333", marker: "arrB",
  energyX: 715, energyY: 801
});

// titles
svg.append("text").attr("x", 36).attr("y", 36).attr("font-size", 26).text("(a)");
svg.append("text").attr("x", 188).attr("y", 36).attr("font-size", 26).attr("font-weight", "bold").text("Hydrostatic");
svg.append("text").attr("x", 486).attr("y", 36).attr("font-size", 26).text("(b)");
svg.append("text").attr("x", 650).attr("y", 36).attr("font-size", 26).attr("font-weight", "bold").text("Uniaxial");

// legend
const legendParts = [
  [["Ti (dz", 0], ["2", 1], [")", 0]],
  [["Ti (dx", 0], ["2", 1], ["-y", 0], ["2", 1], [")", 0]],
  [["Ti (dxz, dyz)", 0]],
  [["Ti (dxy)", 0]],
  [["O (px, py)", 0]],
  [["O (pz)", 0]]
];
const legendPos = [[483, 530, 532, 97], [653, 700, 702, 97], [483, 530, 532, 117],
                   [653, 700, 702, 117], [807, 850, 853, 97], [807, 850, 853, 117]];
legendParts.forEach((parts, k) => {
  const p = legendPos[k];
  svg.append("line")
    .attr("x1", p[0]).attr("x2", p[1]).attr("y1", p[3]).attr("y2", p[3])
    .attr("stroke", seriesColors[k]).attr("stroke-width", 2);
  const t = svg.append("text").attr("x", p[2]).attr("y", p[3] + 6).attr("font-size", 20);
  let up = false;
  parts.forEach(s => {
    const ts = t.append("tspan").text(s[0]);
    if (s[1] && !up) { ts.attr("dy", -8).attr("font-size", 13); up = true; }
    else if (s[1]) { ts.attr("font-size", 13); }
    else if (up) { ts.attr("dy", 8); up = false; }
  });
});
</script>
</body>
</html>
